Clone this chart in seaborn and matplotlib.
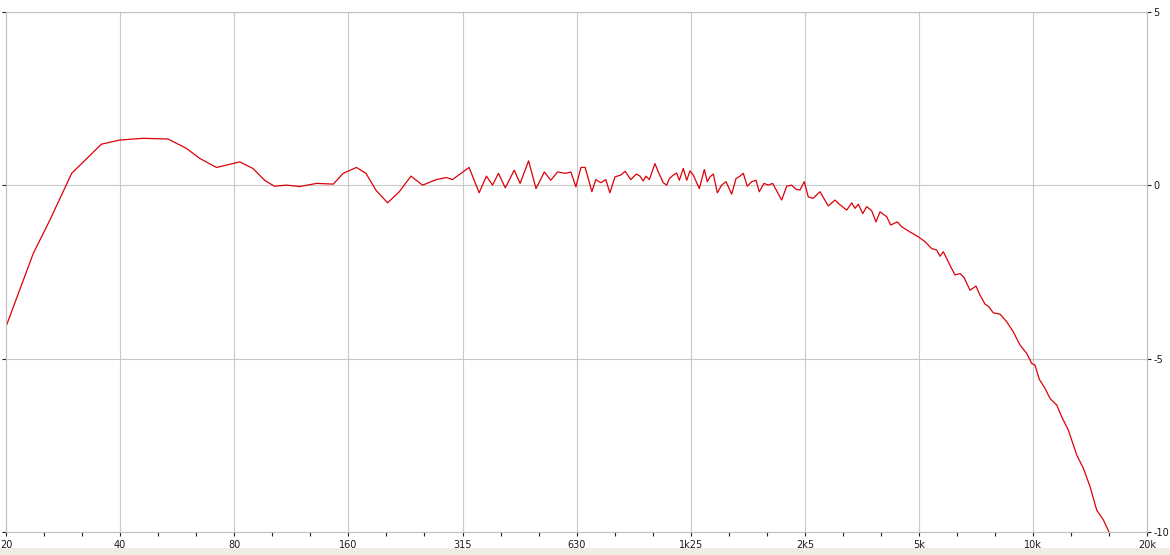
import matplotlib
matplotlib.use("Agg")
import matplotlib.pyplot as plt
import seaborn as sns
import pandas as pd
from matplotlib.ticker import FixedLocator, FixedFormatter, NullFormatter
from matplotlib.patches import Rectangle

# ---- data ----
freq_hz = [20, 23.6, 26.1, 29.8, 35.7, 39.9, 46.0, 53.5, 59.8, 64.9,
           71.8, 82.7, 89.6, 96.2, 102, 110, 119, 132, 146, 155,
           168, 178, 189, 203, 218, 234, 251, 273, 290, 301,
           317, 333, 354, 370, 384, 398, 415, 438, 454, 478,
           500, 526, 547, 570, 599, 618, 637, 657, 674, 702,
           719, 741, 764, 783, 808, 837, 859, 889, 920,
           940, 959, 975, 995, 1030, 1051, 1083, 1106, 1124, 1151,
           1175, 1194, 1223, 1249, 1274, 1300, 1348, 1390, 1415, 1439,
           1468, 1504, 1544, 1585, 1641, 1685, 1726, 1761, 1804, 1853,
           1902, 1940, 1997, 2049, 2105, 2223, 2292, 2362, 2425, 2484,
           2550, 2613, 2693, 2805, 2950, 3073, 3154,
           3300, 3402, 3470, 3541, 3637, 3726, 3841, 3942, 4039, 4207,
           4310, 4487, 4608, 4847, 5097, 5309, 5529, 5699, 5815, 5933,
           6179, 6369, 6566, 6727, 6977, 7236, 7414, 7643, 7797, 8037,
           8373, 8721, 9077, 9453, 9846, 10150, 10355, 10630,
           11005, 11344, 11815, 12180, 12677, 13341, 13887, 14464, 15063, 15680,
           16262]
level_db = [-4.08, -1.97, -1.01, 0.34, 1.18, 1.30, 1.35, 1.33, 1.06, 0.77,
            0.51, 0.67, 0.48, 0.14, -0.03, 0.00, -0.04, 0.05, 0.03, 0.34,
            0.51, 0.34, -0.14, -0.51, -0.19, 0.26, 0.00, 0.16, 0.22, 0.16,
            0.34, 0.51, -0.22, 0.26, 0.00, 0.34, -0.08, 0.43, 0.05, 0.70,
            -0.10, 0.38, 0.14, 0.38, 0.34, 0.38, -0.05, 0.51, 0.51, -0.19,
            0.16, 0.07, 0.16, -0.22, 0.24, 0.29, 0.40, 0.16, 0.32,
            0.26, 0.12, 0.26, 0.16, 0.62, 0.38, 0.07, 0.00, 0.19, 0.29,
            0.35, 0.14, 0.48, 0.14, 0.41, 0.29, -0.10, 0.45, 0.10, 0.24,
            0.32, -0.22, 0.00, 0.10, -0.26, 0.19, 0.26, 0.34, -0.03, 0.10,
            0.14, -0.19, 0.05, 0.00, 0.05, -0.43, -0.03, 0.00, -0.12, -0.14,
            0.10, -0.34, -0.38, -0.19, -0.60, -0.43, -0.55,
            -0.72, -0.51, -0.67, -0.55, -0.82, -0.62, -0.74, -1.06, -0.77, -0.91,
            -1.15, -1.06, -1.20, -1.35, -1.49, -1.63, -1.83, -1.87, -2.05, -1.92,
            -2.31, -2.59, -2.55, -2.66, -3.03, -2.91, -3.17, -3.43, -3.49, -3.68,
            -3.72, -3.94, -4.23, -4.61, -4.85, -5.14, -5.19, -5.60,
            -5.86, -6.15, -6.34, -6.68, -7.06, -7.78, -8.16, -8.69, -9.37, -9.65,
            -10.02]

octave_ticks = [20, 40, 80, 160, 320, 640, 1280, 2560, 5120, 10240, 20480]
octave_labels = ["20", "40", "80", "160", "315", "630", "1k25", "2k5", "5k", "10k", "20k"]
third_octave_ticks = [25.2, 31.7, 50.4, 63.5, 100.8, 127, 201.6, 254, 403.2, 508,
                      806.3, 1016, 1612.7, 2032, 3225, 4064, 6451, 8127, 12902, 16255]
db_ticks = [5, 0, -5, -10]
db_labels = ["5", "0", "-5", "-10"]

df = pd.DataFrame({"freq": freq_hz, "db": level_db})

sns.set_style("white")
plt.rcParams["font.family"] = ["DejaVu Sans"]

W, H = 1170, 555
fig = plt.figure(figsize=(W / 100, H / 100), dpi=100)
fig.patch.set_facecolor("white")
fig.add_artist(Rectangle((0, 0), 1, 7 / H, transform=fig.transFigure,
                         facecolor="#efece3", edgecolor="none", zorder=0))

x0, x1 = 6, 1147.3
y_top, y_bot = 11.7, 532
ax = fig.add_axes([x0 / W, 1 - y_bot / H, (x1 - x0) / W, (y_bot - y_top) / H])
ax.set_facecolor("white")

sns.lineplot(data=df, x="freq", y="db", ax=ax, color="#dc0008",
             linewidth=0.9, estimator=None, sort=False)

ax.set_xscale("log", base=2)
ax.set_xlim(20, 20480)
ax.set_ylim(-10, 5)

ax.xaxis.set_major_locator(FixedLocator(octave_ticks))
ax.xaxis.set_major_formatter(FixedFormatter(octave_labels))
ax.xaxis.set_minor_locator(FixedLocator(third_octave_ticks))
ax.xaxis.set_minor_formatter(NullFormatter())
ax.yaxis.set_major_locator(FixedLocator(db_ticks))
ax.yaxis.set_major_formatter(FixedFormatter(db_labels))

ax.grid(True, which="major", color="#c8c8c8", linewidth=0.8)
ax.set_axisbelow(True)

ax.tick_params(axis="x", which="both", direction="out", length=3, width=0.8,
               color="#222222", labelsize=7, labelcolor="#1a1a1a", pad=3,
               bottom=True, top=False)
ax.tick_params(axis="y", which="major", direction="out", length=3, width=0.8,
               color="#222222", labelsize=7, labelcolor="#1a1a1a", pad=1.5,
               left=True, right=True, labelleft=False, labelright=True)

for s in ax.spines.values():
    s.set_color("#c0c0c0")
    s.set_linewidth(0.8)

ax.set_xlabel("")
ax.set_ylabel("")
if ax.get_legend():
    ax.get_legend().remove()

fig.savefig("out.png", dpi=100)
